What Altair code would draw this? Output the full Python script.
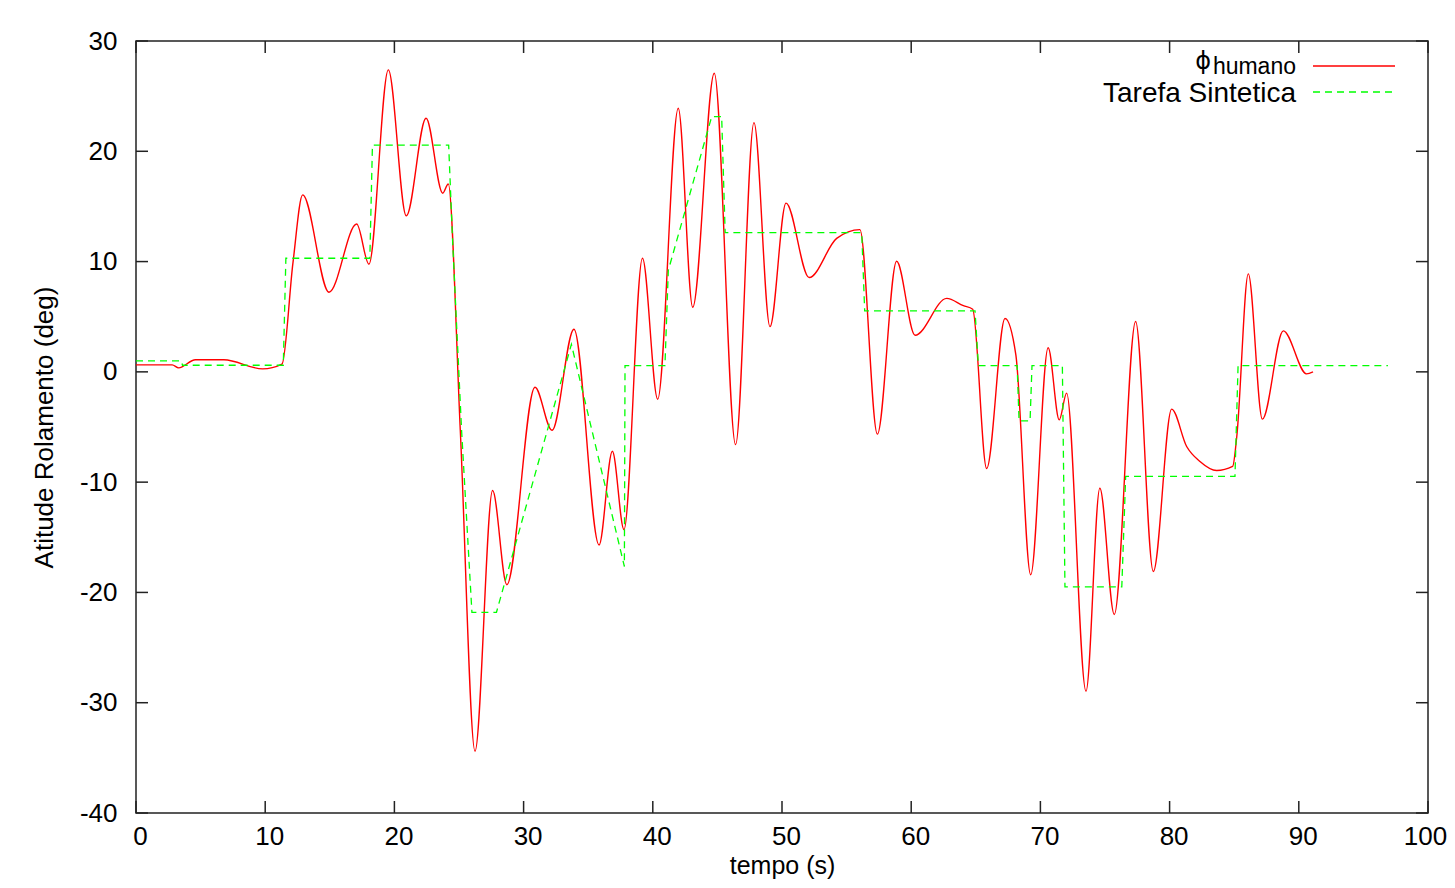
import altair as alt
import pandas as pd

# --- data ---
human_t = [0, 2.8, 3.3, 4.6, 6.8, 9.8, 11.3, 12.15, 12.9, 14.94, 17.08, 18.03, 19.53, 20.92,
           22.45, 23.74, 24.17, 25.1, 26.24, 27.6, 28.7, 30.88, 32.2, 33.9, 35.84, 36.87, 37.77,
           39.2, 40.38, 41.97, 43.09, 44.76, 46.41, 47.83, 49.07, 50.31, 52.1, 54.23, 56.03,
           57.38, 58.87, 60.3, 62.75, 64.04, 64.76, 65.84, 67.26, 68.1, 69.25, 70.6, 71.46,
           72.03, 73.53, 74.6, 75.72, 77.37, 78.74, 80.16, 81.32, 82.35, 83.64, 84.88, 85.2,
           86.09, 87.18, 88.8, 90.6, 91.1]
human_v = [0.63, 0.63, 0.36, 1.1, 1.1, 0.27, 0.7, 9.9, 16.05, 7.22, 13.4, 9.76, 27.38, 14.14,
           23.0, 16.2, 17.04, -5.3, -34.4, -10.76, -19.3, -1.39, -5.3, 3.87, -15.7, -7.2, -14.3,
           10.3, -2.48, 23.9, 5.86, 27.08, -6.6, 22.6, 4.1, 15.3, 8.55, 12.1, 12.9,
           -5.65, 10.03, 3.32, 6.66, 6.0, 5.68, -8.76, 4.84, 1.54, -18.4, 2.19, -4.35,
           -1.93, -28.96, -10.55, -22.0, 4.56, -18.1, -3.38, -6.77, -8.13, -8.95, -8.58, -5.86,
           8.88, -4.29, 3.72, -0.18, 0.0]

task_t = [0, 3.5, 3.6, 11.4, 11.6, 18.1, 18.3, 24.2, 24.5, 25.2, 26.0, 27.9, 33.7, 37.8, 37.85,
          40.94, 41.2, 44.56, 45.33, 45.6, 56.17, 56.4, 64.94, 65.2, 68.2, 68.35, 69.2, 69.35,
          71.7, 71.9, 76.3, 76.6, 85.06, 85.3, 96.9]
task_v = [1.0, 1.0, 0.6, 0.6, 10.3, 10.3, 20.55, 20.55, 12.0, -5.3, -21.8, -21.8, 2.5, -17.65, 0.57,
          0.57, 9.2, 23.15, 23.15, 12.63, 12.63, 5.53, 5.53, 0.57, 0.57, -4.45, -4.45, 0.57,
          0.57, -19.5, -19.5, -9.47, -9.47, 0.57, 0.57]

x_ticks = [0, 10, 20, 30, 40, 50, 60, 70, 80, 90, 100]
y_ticks = [-40, -30, -20, -10, 0, 10, 20, 30]

W, H = 1292, 772
FONT = "Liberation Sans, Arial, Helvetica, sans-serif"
INK = "#222222"

human = pd.DataFrame({"t": human_t, "v": human_v})
task = pd.DataFrame({"t": task_t, "v": task_v})
xt = pd.DataFrame({"t": x_ticks})
yt = pd.DataFrame({"v": y_ticks})

xs = alt.Scale(domain=[0, 100], nice=False, zero=False)
ys = alt.Scale(domain=[-40, 30], nice=False, zero=False)

common = dict(labelFont=FONT, labelFontSize=26, labelColor="black", labelExpr="'' + datum.value",
              titleFont=FONT, titleFontWeight="normal", titleColor="black",
              ticks=False, domain=False, grid=False)
x_axis = alt.Axis(values=x_ticks, labelPadding=10,
                  labelOffset={"condition": {"test": "datum.value == 100", "value": -3}, "value": 4},
                  labelFlush=False, title="tempo (s)", titlePadding=4, titleFontSize=25, **common)
y_axis = alt.Axis(values=y_ticks, labelPadding=19,
                  title="Atitude Rolamento (deg)", titlePadding=22, titleFontSize=26, **common)

X = lambda f: alt.X(f, scale=xs, axis=x_axis)
Y = lambda f: alt.Y(f, scale=ys, axis=y_axis)

red = alt.Chart(human).mark_line(color="#ff0000", strokeWidth=1.4, interpolate="monotone").encode(
    x=X("t:Q"), y=Y("v:Q"))
green = alt.Chart(task).mark_line(color="#00ff00", strokeWidth=1.3, strokeDash=[7, 5]).encode(
    x=X("t:Q"), y=Y("v:Q"))

tick_style = dict(color=INK, strokeWidth=1.5)
bot = alt.Chart(xt).mark_rule(**tick_style).encode(
    x=X("t:Q"), y=alt.value(H), y2=alt.value(H - 12))
top = alt.Chart(xt).mark_rule(**tick_style).encode(
    x=X("t:Q"), y=alt.value(0), y2=alt.value(12))
left = alt.Chart(yt).mark_rule(**tick_style).encode(
    y=Y("v:Q"), x=alt.value(0), x2=alt.value(12))
right = alt.Chart(yt).mark_rule(**tick_style).encode(
    y=Y("v:Q"), x=alt.value(W), x2=alt.value(W - 12))

# legend (top right, inside the frame)
leg = pd.DataFrame({"k": [0]})
leg_red = alt.Chart(leg).mark_rule(color="#ff0000", strokeWidth=1.4).encode(
    x=alt.value(1177), x2=alt.value(1259), y=alt.value(25))
leg_green = alt.Chart(leg).mark_rule(color="#00ff00", strokeWidth=1.3, strokeDash=[7, 5]).encode(
    x=alt.value(1177), x2=alt.value(1259), y=alt.value(51))
leg_phi = alt.Chart(leg).mark_text(font="DejaVu Sans, Liberation Sans", fontSize=24, align="right",
                                   baseline="middle", color="black").encode(
    x=alt.value(1075), y=alt.value(21), text=alt.value("ϕ"))
leg_sub = alt.Chart(leg).mark_text(font=FONT, fontSize=23, align="right",
                                   baseline="middle", color="black").encode(
    x=alt.value(1160), y=alt.value(26), text=alt.value("humano"))
leg_task = alt.Chart(leg).mark_text(font=FONT, fontSize=28, align="right",
                                    baseline="middle", color="black").encode(
    x=alt.value(1160), y=alt.value(53), text=alt.value("Tarefa Sintetica"))

chart = alt.layer(red, green, bot, top, left, right, leg_red, leg_green, leg_phi, leg_sub, leg_task).properties(
    width=W, height=H,
    autosize=alt.AutoSizeParams(type="none"),
    padding={"left": 128, "top": 33, "right": 19, "bottom": 66},
    background="white",
).configure_view(
    stroke=INK, strokeWidth=1.5
)

chart.save("out.html", embed_options={"renderer": "svg", "actions": False})
